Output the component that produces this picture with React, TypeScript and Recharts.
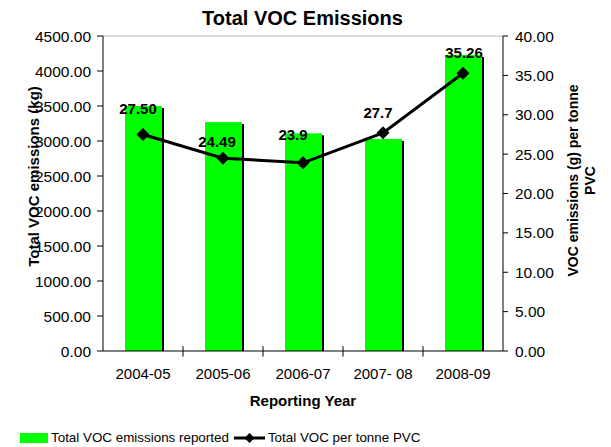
import React from 'react';
import {
  ComposedChart,
  Bar,
  Line,
  XAxis,
  YAxis,
  Legend,
  LabelList,
  ReferenceLine,
  Label,
} from 'recharts';

// ---------- data ----------
const categories = ['2004-05', '2005-06', '2006-07', '2007- 08', '2008-09'];
const emissionsKg = [3500, 3270, 3110, 3030, 4230];
const perTonne = [27.5, 24.49, 23.9, 27.7, 35.26];
const perTonneLabels = ['27.50', '24.49', '23.9', '27.7', '35.26'];
const leftTicks = [0, 500, 1000, 1500, 2000, 2500, 3000, 3500, 4000, 4500];
const rightTicks = [0, 5, 10, 15, 20, 25, 30, 35, 40];
const seriesNames = ['Total VOC emissions reported', 'Total VOC per tonne PVC'];

// label nudges (style), dx/dy in px relative to the point
const labelNudges = [
  [-5, -26],
  [-6, -17],
  [-10, -28],
  [-5, -20],
  [1, -21],
];

const data = categories.map((c, i) => ({
  year: c,
  kg: emissionsKg[i],
  pt: perTonne[i],
  ptLabel: perTonneLabels[i],
}));

const FONT = '"Liberation Sans", Arial, Helvetica, sans-serif';
const GREEN = '#00FF00';

const ShadowBar = (props: any) => {
  const { x, y, width, height } = props;
  if (!height || height <= 0) return null;
  return (
    <g>
      <rect x={x + 2} y={y + 2} width={width} height={height - 2} fill="#000" />
      <rect x={x} y={y} width={width} height={height} fill={GREEN} />
    </g>
  );
};

const Diamond = (props: any) => {
  const { cx, cy } = props;
  if (cx == null || cy == null) return null;
  const r = 6.5;
  return (
    <polygon
      points={`${cx},${cy - r} ${cx + r},${cy} ${cx},${cy + r} ${cx - r},${cy}`}
      fill="#000"
    />
  );
};

const PointLabel = (props: any) => {
  const { x, y, index, value } = props;
  const [dx, dy] = labelNudges[index] || [0, -20];
  return (
    <text
      x={x + dx}
      y={y + dy}
      textAnchor="middle"
      dominantBaseline="central"
      fontFamily={FONT}
      fontWeight="bold"
      fontSize={15}
      fill="#000"
    >
      {value}
    </text>
  );
};

const LeftTitle = (props: any) => {
  const vb = props.viewBox || {};
  const cx = vb.x + 33;
  const cy = vb.y + vb.height / 2 - 17;
  return (
    <text
      x={cx}
      y={cy}
      transform={`rotate(-90, ${cx}, ${cy})`}
      textAnchor="middle"
      dominantBaseline="central"
      fontFamily={FONT}
      fontWeight="bold"
      fontSize={15}
      fill="#000"
    >
      Total VOC emissions (kg)
    </text>
  );
};

const RightTitle = (props: any) => {
  const vb = props.viewBox || {};
  const cy = vb.y + vb.height / 2 - 13;
  const x1 = vb.x + 70;
  const x2 = vb.x + 87;
  return (
    <g>
      <text
        x={x1}
        y={cy}
        transform={`rotate(-90, ${x1}, ${cy})`}
        textAnchor="middle"
        dominantBaseline="central"
        fontFamily={FONT}
        fontWeight="bold"
        fontSize={14}
        fill="#000"
      >
        VOC emissions (g) per tonne
      </text>
      <text
        x={x2}
        y={cy}
        transform={`rotate(-90, ${x2}, ${cy})`}
        textAnchor="middle"
        dominantBaseline="central"
        fontFamily={FONT}
        fontWeight="bold"
        fontSize={14}
        fill="#000"
      >
        PVC
      </text>
    </g>
  );
};

const BottomTitle = (props: any) => {
  const vb = props.viewBox || {};
  return (
    <text
      x={vb.x + vb.width / 2}
      y={vb.y + 55}
      textAnchor="middle"
      fontFamily={FONT}
      fontWeight="bold"
      fontSize={15}
      fill="#000"
    >
      Reporting Year
    </text>
  );
};

const LegendContent = (props: any) => {
  const payload = props.payload || [];
  return (
    <div
      style={{
        display: 'flex',
        alignItems: 'center',
        fontFamily: FONT,
        fontSize: 13.4,
        color: '#000',
        whiteSpace: 'nowrap',
        lineHeight: '16px',
      }}
    >
      {payload.map((entry: any, i: number) => {
        const isLine = entry.type === 'line' || entry.dataKey === 'pt';
        return (
          <span key={i} style={{ display: 'flex', alignItems: 'center' }}>
            {isLine ? (
              <svg width={32} height={14} style={{ marginRight: 2, marginLeft: 5 }}>
                <line x1={0} y1={7} x2={31} y2={7} stroke="#000" strokeWidth={3} />
                <polygon points="15.5,2 20.5,7 15.5,12 10.5,7" fill="#000" />
              </svg>
            ) : (
              <span
                style={{
                  display: 'inline-block',
                  width: 28,
                  height: 10,
                  background: GREEN,
                  marginRight: 3,
                }}
              />
            )}
            <span>{entry.value}</span>
          </span>
        );
      })}
    </div>
  );
};

export default function App() {
  return (
    <div style={{ position: 'absolute', left: 0, top: 0, width: 611, height: 447, background: '#fff' }}>
      <div
        style={{
          position: 'absolute',
          left: 0,
          top: 6,
          width: 605,
          textAlign: 'center',
          fontFamily: FONT,
          fontWeight: 'bold',
          fontSize: 20,
          lineHeight: '24px',
          color: '#000',
        }}
      >
        Total VOC Emissions
      </div>
      <ComposedChart
        width={611}
        height={447}
        data={data}
        margin={{ top: 36, right: 0, bottom: 36, left: 0 }}
        barCategoryGap={0}
        style={{ position: 'absolute', left: 0, top: 0 }}
      >
        <XAxis
          dataKey="year"
          height={60}
          tickLine={false}
          axisLine={{ stroke: '#000', strokeWidth: 1 }}
          tick={{ fill: '#000', fontSize: 15, fontFamily: FONT }}
          tickSize={6}
          tickMargin={11}
          interval={0}
        >
          <Label content={<BottomTitle />} />
        </XAxis>
        <YAxis
          yAxisId="left"
          width={103}
          domain={[0, 4500]}
          ticks={leftTicks}
          interval={0}
          allowDataOverflow
          tickFormatter={(v: number) => v.toFixed(2)}
          axisLine={{ stroke: '#000', strokeWidth: 1 }}
          tickLine={{ stroke: '#000', strokeWidth: 1 }}
          tick={{ fill: '#000', fontSize: 15.5, fontFamily: FONT }}
          tickSize={6}
          tickMargin={6}
        >
          <Label content={<LeftTitle />} />
        </YAxis>
        <YAxis
          yAxisId="right"
          orientation="right"
          width={108}
          domain={[0, 40]}
          ticks={rightTicks}
          interval={0}
          allowDataOverflow
          tickFormatter={(v: number) => v.toFixed(2)}
          axisLine={{ stroke: '#000', strokeWidth: 1 }}
          tickLine={{ stroke: '#000', strokeWidth: 1 }}
          tick={{ fill: '#000', fontSize: 15.5, fontFamily: FONT }}
          tickSize={5}
          tickMargin={7}
        >
          <Label content={<RightTitle />} />
        </YAxis>
        <ReferenceLine yAxisId="left" y={4500} stroke="#b4b4b4" strokeWidth={1} ifOverflow="visible" />
        {categories.slice(1).map((c) => (
          <ReferenceLine
            key={c}
            yAxisId="left"
            position="start"
            ifOverflow="visible"
            segment={[
              { x: c, y: 70 },
              { x: c, y: -80 },
            ]}
            stroke="#000"
            strokeWidth={1}
          />
        ))}
        <Bar
          yAxisId="left"
          dataKey="kg"
          name={seriesNames[0]}
          fill={GREEN}
          barSize={37}
          shape={<ShadowBar />}
          isAnimationActive={false}
          legendType="rect"
        />
        <Line
          yAxisId="right"
          dataKey="pt"
          name={seriesNames[1]}
          stroke="#000"
          strokeWidth={3}
          dot={<Diamond />}
          activeDot={false}
          isAnimationActive={false}
          legendType="line"
        >
          <LabelList dataKey="ptLabel" content={<PointLabel />} />
        </Line>
        <Legend
          layout="horizontal"
          verticalAlign="middle"
          align="center"
          content={<LegendContent />}
          wrapperStyle={{ position: 'absolute', left: 20, top: 430, width: 'auto', height: 16 }}
        />
      </ComposedChart>
    </div>
  );
}
